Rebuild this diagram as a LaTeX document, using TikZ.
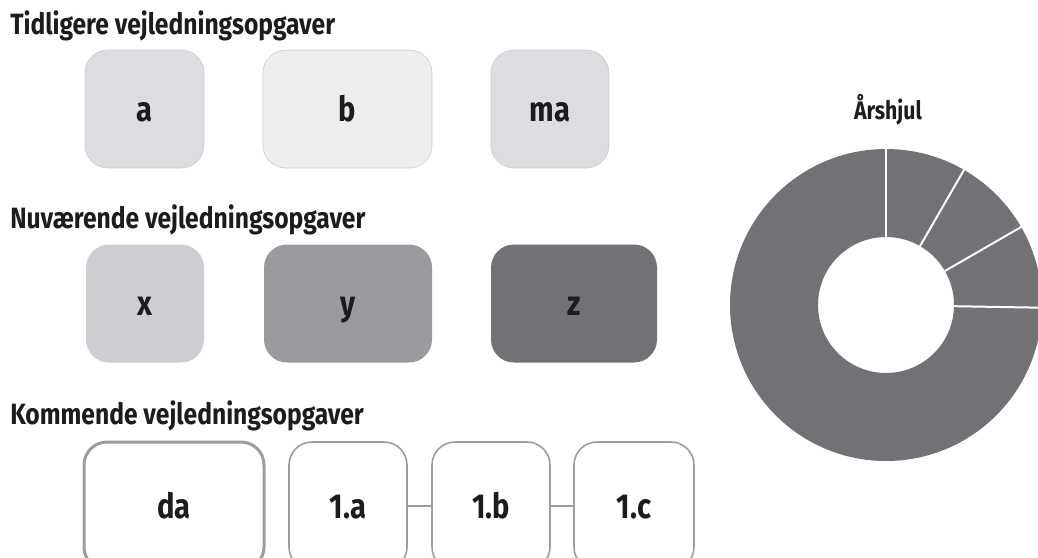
\documentclass[tikz,border=0pt]{standalone}
\usepackage{fontspec}
\setmainfont{Fira Sans}[FakeStretch=0.84]
\usetikzlibrary{calc}
\definecolor{boxA}{HTML}{DCDDE0}
\definecolor{boxB}{HTML}{EEEEEE}
\definecolor{boxX}{HTML}{CDCED1}
\definecolor{boxY}{HTML}{9A9B9F}
\definecolor{boxZ}{HTML}{717276}
\definecolor{rim}{HTML}{9D9D9F}
\definecolor{ink}{HTML}{1C1C1C}
\newlength{\px}\setlength{\px}{0.75pt}
\tikzset{
	heading/.style={anchor=base west,inner sep=0pt,text=ink,font=\bfseries\fontsize{22}{26}\selectfont},
	task/.style={rounded corners=23\px,inner sep=0pt,text=ink,text height=24\px,text depth=0pt,
		font=\bfseries\fontsize{26}{30}\selectfont,minimum height=118\px},
	oldbox/.style={task,draw=black!20,line width=0.5pt},
	nowbox/.style={task},
	comingbox/.style={task,draw=rim,fill=white,line width=1.6\px,minimum height=128\px},
}

\begin{document}
\begin{tikzpicture}[x=0.75pt,y=0.75pt]
				\clip (0,0) rectangle (1038,-557);
				
				\node[heading] (h1) at (10,-34) {Tidligere vejledningsopgaver};
				\node[heading] (h2) at (10,-228) {Nuværende vejledningsopgaver};
				\node[heading] (h3) at (10,-424) {Kommende vejledningsopgaver};
				
				% tidligere
				\node[oldbox,fill=boxA,minimum width=119\px] (a) at (144.5,-109) {a};
				\node[oldbox,fill=boxB,minimum width=169\px] (b) at (347.5,-109) {b};
				\node[oldbox,fill=boxA,minimum width=118\px] (ma) at (550,-109) {ma};
				
				% nuværende
				\node[nowbox,fill=boxX,minimum width=118\px] (x) at (145,-303.5) {x};
				\node[nowbox,fill=boxY,minimum width=168\px] (y) at (348,-303.5) {y};
				\node[nowbox,fill=boxZ,minimum width=166\px] (z) at (574,-303.5) {z};
				
				% kommende
				\node[comingbox,line width=3\px,minimum width=180\px] (da) at (174,-506) {da};
				\node[comingbox,minimum width=118\px] (p1a) at (348,-506) {1.a};
				\node[comingbox,minimum width=118\px] (p1b) at (491,-506) {1.b};
				\node[comingbox,minimum width=120\px] (p1c) at (634,-506) {1.c};
				
				\draw[rim,line width=2\px] (p1a) -- (p1b);
				\draw[rim,line width=2\px] (p1b) -- (p1c);
				
				% aarshjul
				\coordinate (c) at (886,-305);
				\node[anchor=base,inner sep=0pt,text=ink,font=\bfseries\fontsize{19}{23}\selectfont] (hjul) at (888,-119) {Årshjul};
				
				\fill[boxZ,even odd rule] (c) circle[radius=156] (c) circle[radius=68];
				
				\foreach \a in {90,60,30,-1}{
					\draw[white,line width=2\px] ($(c)+(\a:66)$) -- ($(c)+(\a:160)$);}
\end{tikzpicture}
\end{document}
